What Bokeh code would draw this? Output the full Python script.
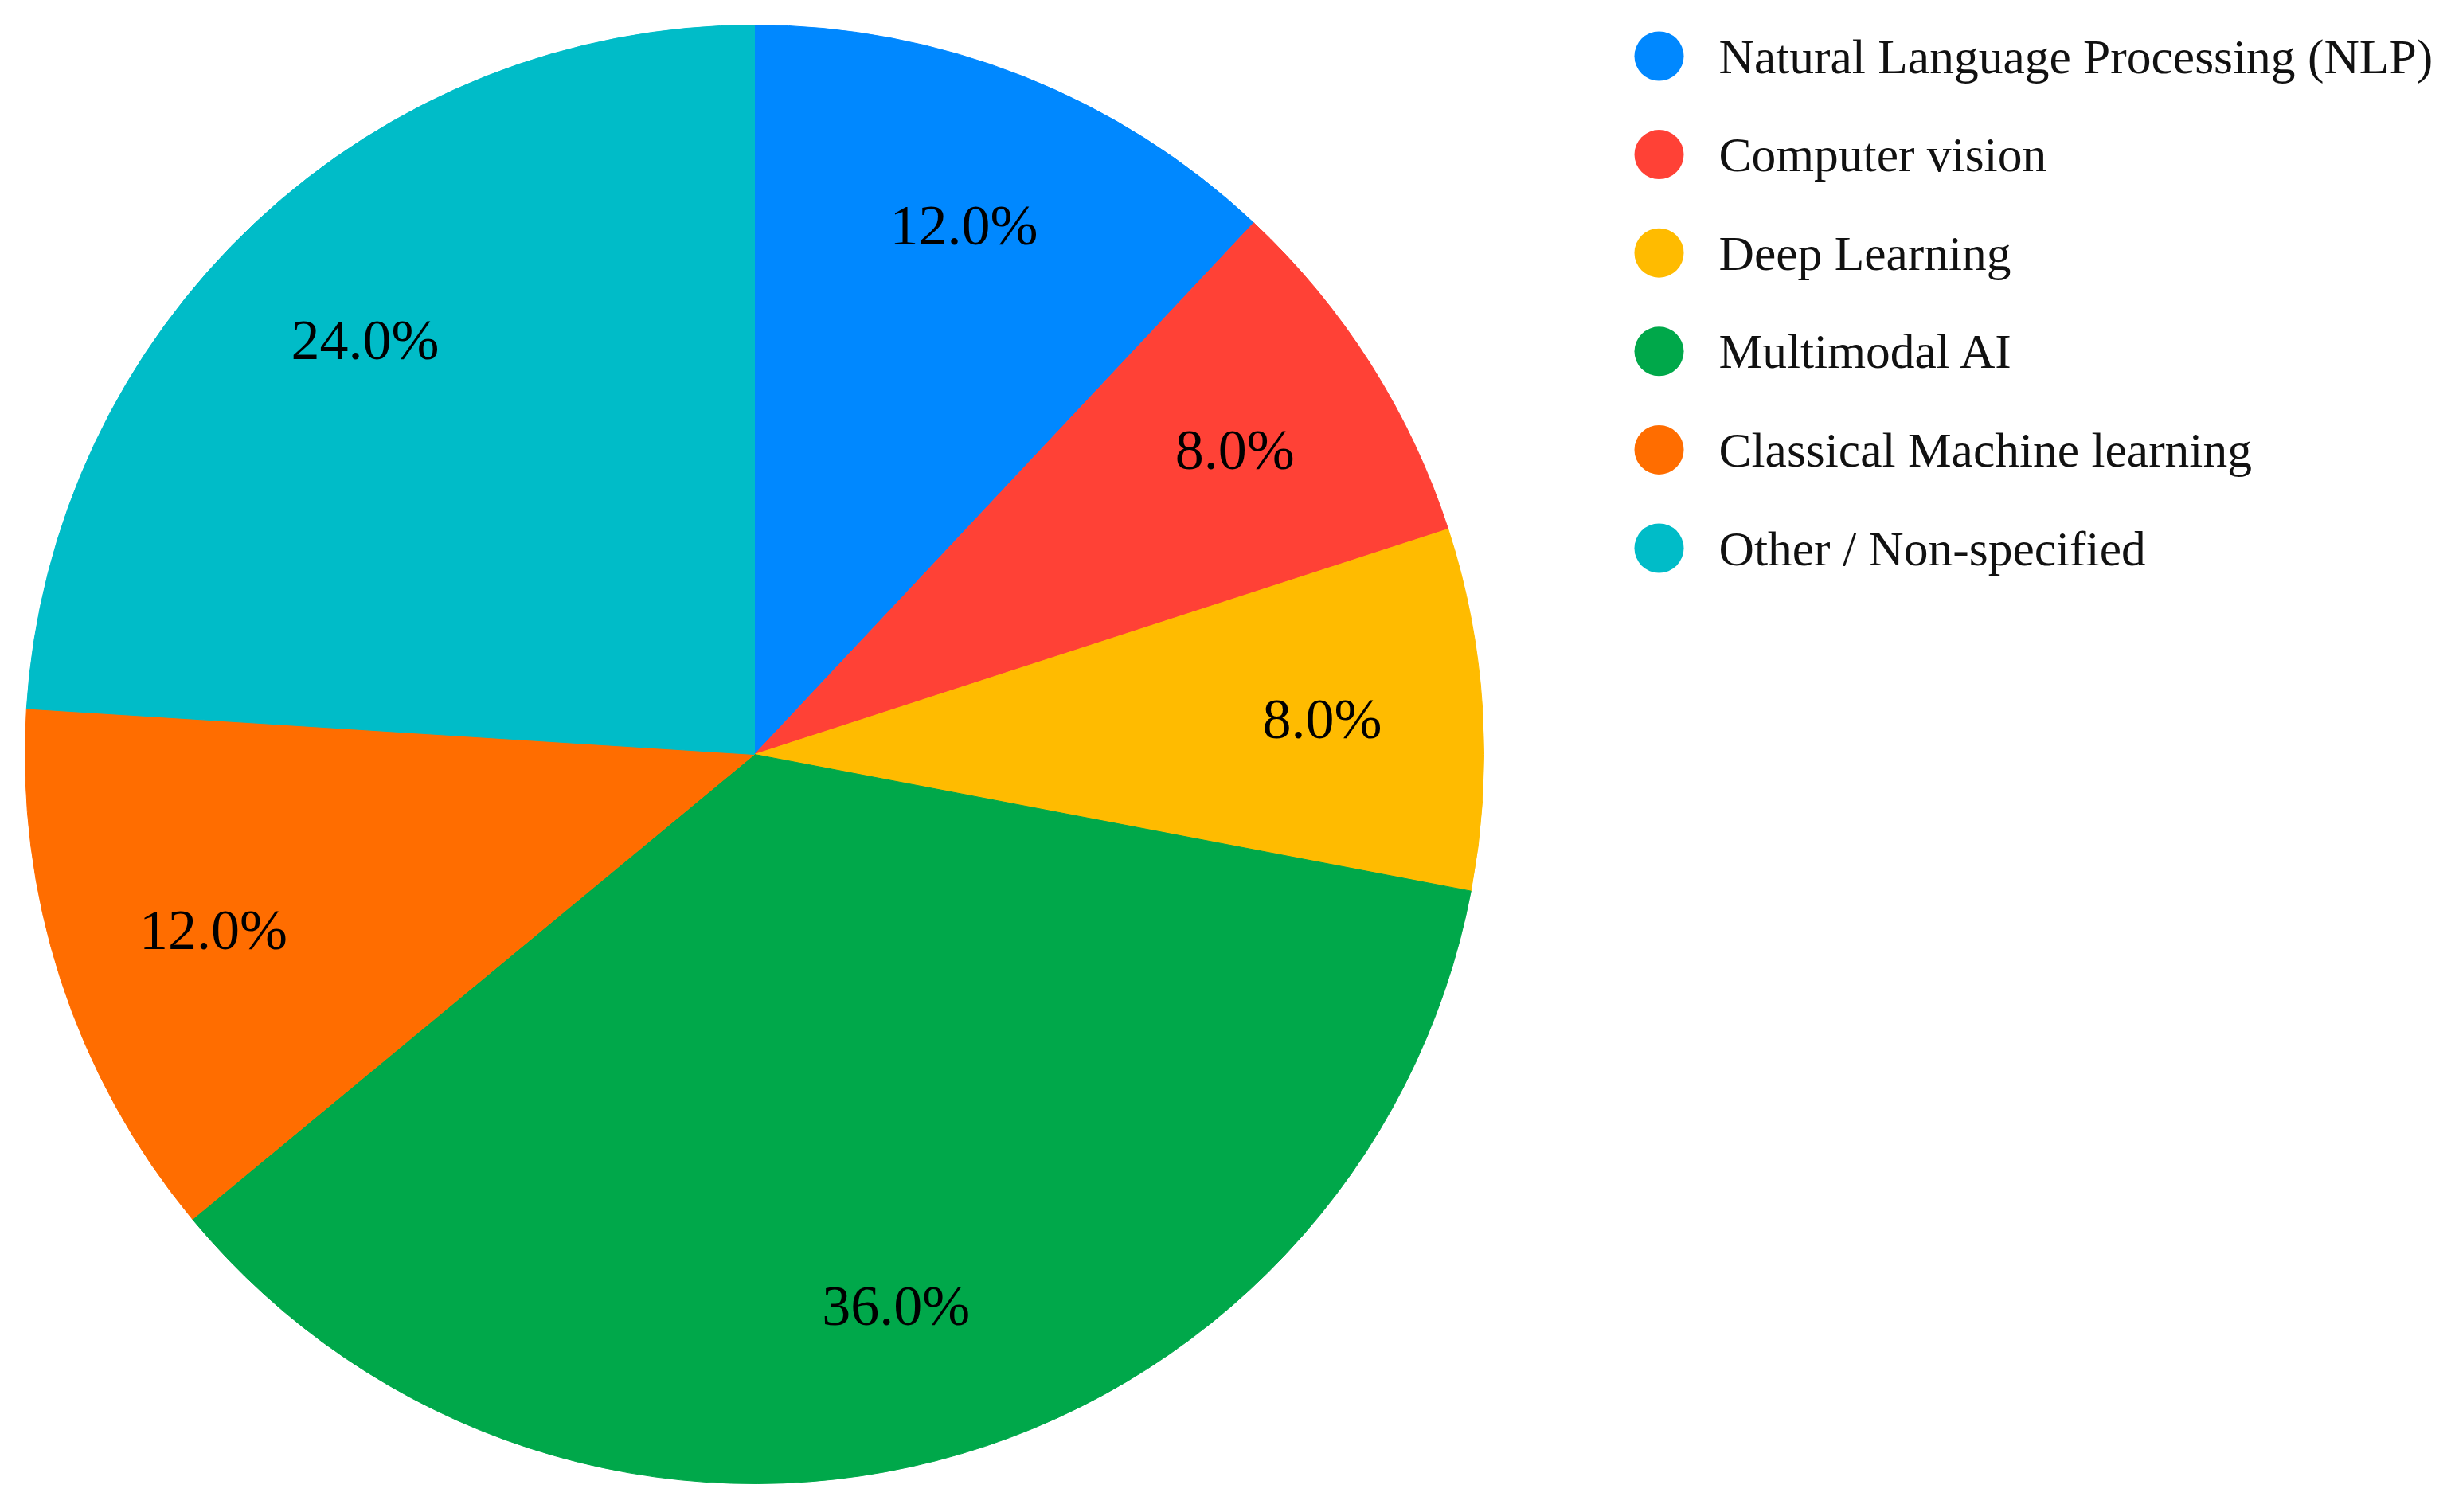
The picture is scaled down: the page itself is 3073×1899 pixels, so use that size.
import numpy as np
from bokeh.plotting import figure
from bokeh.models import ColumnDataSource, Range1d
from bokeh.core.properties import value
from bokeh.embed import file_html
from bokeh.resources import INLINE

categories = ["Natural Language Processing (NLP)", "Computer vision", "Deep Learning",
              "Multimodal AI", "Classical Machine learning", "Other / Non-specified"]
shares = [12.0, 8.0, 8.0, 36.0, 12.0, 24.0]
colors = ["#0088FF", "#FF4136", "#FFBB00", "#00A84A", "#FF6D00", "#00BCC8"]

W, H = 3057, 1883
p = figure(width=W, height=H, output_backend="svg", toolbar_location=None,
           x_range=Range1d(0, W), y_range=Range1d(0, H), min_border=0)
p.axis.visible = False
p.grid.visible = False
p.outline_line_color = None
p.background_fill_color = "white"

cx, cy, r = 947, 936, 916
frac = np.array(shares) / sum(shares)
cum_end = np.cumsum(frac)
cum_start = cum_end - frac
start = np.pi / 2 - cum_end * 2 * np.pi
end = np.pi / 2 - cum_start * 2 * np.pi
mid = (start + end) / 2
lr = 0.78 * r
src = ColumnDataSource(dict(start=start, end=end, color=colors,
                            lx=cx + lr * np.cos(mid), ly=cy + lr * np.sin(mid),
                            label=["{:.1f}%".format(s) for s in shares]))
p.wedge(x=cx, y=cy, radius=r, start_angle="start", end_angle="end",
        fill_color="color", line_color="color", line_width=1, source=src)
p.text(x="lx", y="ly", text="label", source=src, text_font=value("Liberation Serif"),
       text_font_size="72px", text_align="center", text_baseline="middle", text_color="black")

# legend
row_y0 = H - 70
step = 123.6
ly = [row_y0 - i * step for i in range(len(categories))]
leg = ColumnDataSource(dict(y=ly, color=colors, name=categories))
p.scatter(x=2083, y="y", size=62, marker="circle", fill_color="color", line_color=None, source=leg)
p.text(x=2158, y="y", text="name", source=leg, text_font=value("Liberation Serif"),
       text_font_size="61.5px", text_align="left", text_baseline="middle", text_color="#111111")

open("out.html", "w").write(file_html(p, INLINE))
